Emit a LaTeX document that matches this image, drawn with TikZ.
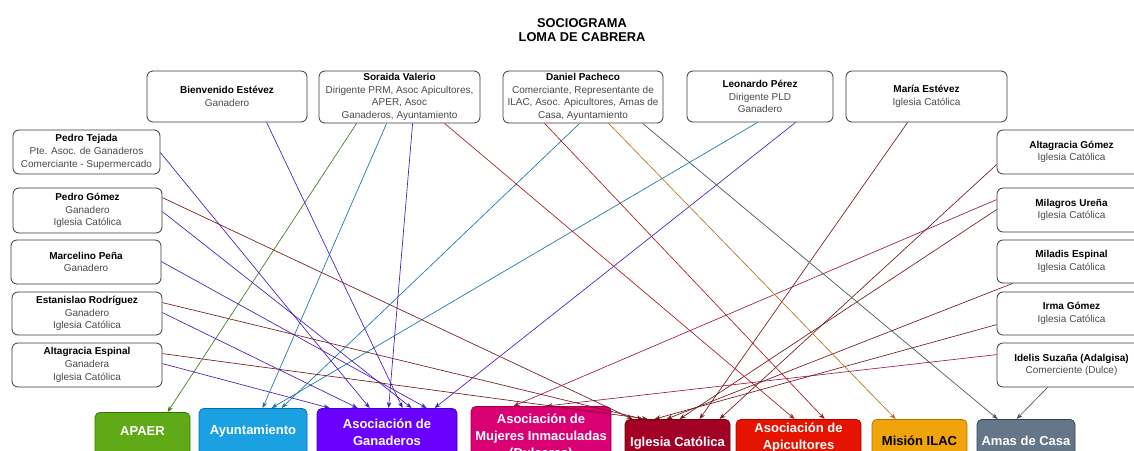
\documentclass[tikz,border=0pt]{standalone}
\usepackage{fontspec}
\setmainfont{Liberation Sans}
\usetikzlibrary{arrows.meta,calc}
\definecolor{boxline}{HTML}{3A3A3A}
\definecolor{subgray}{HTML}{4A4A4A}
\definecolor{fGreen}{HTML}{60A917}\definecolor{sGreen}{HTML}{2D7600}
\definecolor{fBlue}{HTML}{1BA1E2}\definecolor{sBlue}{HTML}{006EAF}
\definecolor{fPurple}{HTML}{6A00FF}\definecolor{sPurple}{HTML}{3700CC}
\definecolor{fPink}{HTML}{D80073}\definecolor{sPink}{HTML}{A50040}
\definecolor{fWine}{HTML}{A20025}\definecolor{sWine}{HTML}{6F0000}
\definecolor{fRed}{HTML}{E51400}\definecolor{sRed}{HTML}{B20000}
\definecolor{fAmber}{HTML}{F0A30A}\definecolor{sAmber}{HTML}{BD7000}
\definecolor{fSlate}{HTML}{647687}\definecolor{sSlate}{HTML}{314354}
\begin{document}
\begin{tikzpicture}[x=1pt,y=-1pt,
  pbox/.style={draw=boxline, fill=white, rounded corners=6pt, line width=0.8pt,
    align=center, font=\fontsize{10}{12.6}\selectfont, text=subgray, inner sep=1pt},
  catbox/.style={draw=#1, rounded corners=5pt, line width=0.8pt, anchor=north, minimum height=70pt, inner sep=0pt},
  cattext/.style={align=center, font=\fontsize{13}{17}\selectfont\bfseries, text=white},
  conn/.style={draw=#1!80!gray, line width=0.65pt, -{Stealth[length=6pt,width=4.5pt]}}
]
\useasboundingbox (0,0) rectangle (1134,450);
\clip (0,0) rectangle (1134,450);

% title
\node[align=center, font=\fontsize{12.8}{14}\selectfont\bfseries] (title) at (582,30) {SOCIOGRAMA\\LOMA DE CABRERA};

% top row
\node[pbox, minimum width=160pt, minimum height=51pt] (be) at (227,96.5) {\textbf{\color{black}Bienvenido Estévez}\\Ganadero};
\node[pbox, minimum width=161pt, minimum height=52pt] (sv) at (399.5,97) {\textbf{\color{black}Soraida Valerio}\\Dirigente PRM, Asoc Apicultores,\\APER, Asoc\\Ganaderos, Ayuntamiento};
\node[pbox, minimum width=160pt, minimum height=52pt] (dp) at (583,97) {\textbf{\color{black}Daniel Pacheco}\\Comerciante, Representante de\\ILAC, Asoc. Apicultores, Amas de\\Casa, Ayuntamiento};
\node[pbox, minimum width=146pt, minimum height=51pt] (lp) at (760,96.5) {\textbf{\color{black}Leonardo Pérez}\\Dirigente PLD\\Ganadero};
\node[pbox, minimum width=161pt, minimum height=51pt] (me) at (926.5,96.5) {\textbf{\color{black}María Estévez}\\Iglesia Católica};

% left column
\node[pbox, minimum width=147pt, minimum height=44pt] (pt) at (86.5,152) {\textbf{\color{black}Pedro Tejada}\\Pte. Asoc. de Ganaderos\\Comerciante - Supermercado};
\node[pbox, minimum width=149pt, minimum height=45pt] (pg) at (87.5,210.5) {\textbf{\color{black}Pedro Gómez}\\Ganadero\\Iglesia Católica};
\node[pbox, minimum width=150pt, minimum height=44pt] (mp) at (86,262) {\textbf{\color{black}Marcelino Peña}\\Ganadero};
\node[pbox, minimum width=150pt, minimum height=43pt] (er) at (87,313.5) {\textbf{\color{black}Estanislao Rodríguez}\\Ganadero\\Iglesia Católica};
\node[pbox, minimum width=150pt, minimum height=44pt] (ae) at (87,365) {\textbf{\color{black}Altagracia Espinal}\\Ganadera\\Iglesia Católica};

% right column
\node[pbox, minimum width=149pt, minimum height=44pt] (ag) at (1071.5,152) {\textbf{\color{black}Altagracia Gómez}\\Iglesia Católica};
\node[pbox, minimum width=149pt, minimum height=44pt] (mu) at (1071.5,210) {\textbf{\color{black}Milagros Ureña}\\Iglesia Católica};
\node[pbox, minimum width=149pt, minimum height=43pt] (mi) at (1071.5,261.5) {\textbf{\color{black}Miladis Espinal}\\Iglesia Católica};
\node[pbox, minimum width=149pt, minimum height=43pt] (ir) at (1071.5,313.5) {\textbf{\color{black}Irma Gómez}\\Iglesia Católica};
\node[pbox, minimum width=149pt, minimum height=44pt] (is) at (1071.5,365) {\textbf{\color{black}Idelis Suzaña (Adalgisa)}\\Comerciente (Dulce)};

% bottom categories
\node[catbox=sGreen, fill=fGreen, minimum width=95pt] (apaer) at (142.5,412) {};
\node[cattext] (apaerT) at (142.5,431) {APAER};
\node[catbox=sBlue, fill=fBlue, minimum width=108pt] (ay) at (253,408) {};
\node[cattext] (ayT) at (253,431) {Ayuntamiento};
\node[catbox=sPurple, fill=fPurple, minimum width=140pt] (gan) at (387,408) {};
\node[cattext] (ganT) at (387,432) {Asociación de\\Ganaderos};
\node[catbox=sPink, fill=fPink, minimum width=140pt] (muj) at (541,406) {};
\node[cattext] (mujT) at (541,437) {Asociación de\\Mujeres Inmaculadas\\(Dulceras)};
\node[catbox=sWine, fill=fWine, minimum width=105pt] (ig) at (677.5,419) {};
\node[cattext] (igT) at (677.5,443) {Iglesia Católica};
\node[catbox=sRed, fill=fRed, minimum width=125pt] (api) at (798.5,419) {};
\node[cattext] (apiT) at (798.5,438) {Asociación de\\Apicultores};
\node[catbox=sAmber, fill=fAmber, minimum width=95pt] (ilac) at (919.5,419) {};
\node[cattext, text=black] (ilacT) at (919.5,441) {Misión ILAC};
\node[catbox=sSlate, fill=fSlate, minimum width=98pt] (amas) at (1026,419) {};
\node[cattext] (amasT) at (1026,441) {Amas de Casa};

% connectors
\draw[conn=sGreen] ($(sv.south west)+(38,0)$) -- ($(apaer.north west)+(73,0)$);

\draw[conn=sBlue] ($(sv.south west)+(68,0)$) -- ($(ay.north west)+(64,0)$);
\draw[conn=sBlue] ($(lp.south west)+(71,0)$) -- ($(ay.north west)+(73,0)$);
\draw[conn=sBlue] ($(dp.south west)+(77,0)$) -- ($(ay.north west)+(83,0)$);

\draw[conn=sPurple] ($(ae.north east)+(0,21)$) -- ($(gan.north west)+(13,0)$);
\draw[conn=sPurple] ($(er.north east)+(0,21)$) -- ($(gan.north west)+(41,0)$);
\draw[conn=sPurple] ($(pt.north east)+(0,23)$) -- ($(gan.north west)+(53,0)$);
\draw[conn=sPurple] ($(sv.south west)+(94,0)$) -- ($(gan.north west)+(72,0)$);
\draw[conn=sPurple] ($(be.south west)+(120,0)$) -- ($(gan.north west)+(86,0)$);
\draw[conn=sPurple] ($(pg.north east)+(0,24)$) -- ($(gan.north west)+(95,0)$);
\draw[conn=sPurple] ($(mp.north east)+(0,22)$) -- ($(gan.north west)+(110,0)$);
\draw[conn=sPurple] ($(lp.south west)+(109,0)$) -- ($(gan.north west)+(118,0)$);

\draw[conn=sPink] ($(mu.north west)+(0,12)$) -- ($(muj.north west)+(43,0)$);
\draw[conn=sPink] ($(is.north west)+(0,12)$) -- ($(muj.north west)+(76,0)$);

\draw[conn=sWine] ($(pg.north east)+(0,10)$) -- ($(ig.north west)+(8,0)$);
\draw[conn=sWine] ($(er.north east)+(0,11)$) -- ($(ig.north west)+(18,0)$);
\draw[conn=sWine] ($(ae.north east)+(0,11)$) -- ($(ig.north west)+(23,0)$);
\draw[conn=sWine] ($(ir.north west)+(0,33)$) -- ($(ig.north west)+(30,0)$);
\draw[conn=sWine] ($(mi.south west)+(16,0)$) -- ($(ig.north west)+(42,0)$);
\draw[conn=sWine] ($(mu.north west)+(0,22)$) -- ($(ig.north west)+(55,0)$);
\draw[conn=sWine] ($(me.south west)+(62,0)$) -- ($(ig.north west)+(75,0)$);
\draw[conn=sWine] ($(ag.north west)+(0,35)$) -- ($(ig.north west)+(95,0)$);

\draw[conn=sRed] ($(sv.south west)+(126,0)$) -- ($(api.north west)+(59,0)$);
\draw[conn=sRed] ($(dp.south west)+(42,0)$) -- ($(api.north west)+(89,0)$);

\draw[conn=sAmber] ($(dp.south west)+(106,0)$) -- ($(ilac.north west)+(24,0)$);

\draw[conn=sSlate] ($(dp.south west)+(140,0)$) -- ($(amas.north west)+(21,0)$);
\draw[conn=sSlate] ($(is.south west)+(51,0)$) -- ($(amas.north west)+(40,0)$);
\end{tikzpicture}
\end{document}
